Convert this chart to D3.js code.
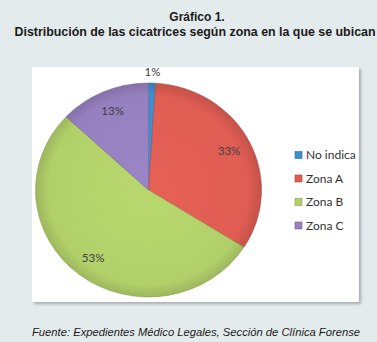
<!DOCTYPE html>
<html>
<head>
<meta charset="utf-8">
<script src="https://cdn.jsdelivr.net/npm/d3@7"></script>
<style>
  html, body { margin: 0; padding: 0; background: #e4ebed; }
  svg { display: block; }
</style>
</head>
<body>
<svg class="chart_svg" width="377" height="342"></svg>
<script>
// data
const categories = ["No indica", "Zona A", "Zona B", "Zona C"]
const values = [1, 33, 53, 13]
const colors = ["#3c8fd2", "#df5d53", "#b2d06a", "#9780bf"]
const title = "Gráfico 1."
const subtitle = "Distribución de las cicatrices según zona en la que se ubican"
const source = "Fuente: Expedientes Médico Legales, Sección de Clínica Forense"

const svg = d3.select("svg.chart_svg")
const defs = svg.append("defs")

// soft shadow for the chart box
const f = defs.append("filter").attr("id", "shadow")
    .attr("x", "-5%").attr("y", "-5%").attr("width", "115%").attr("height", "115%")
f.append("feDropShadow")
    .attr("dx", 2).attr("dy", 2).attr("stdDeviation", 1.6)
    .attr("flood-color", "#7a8486").attr("flood-opacity", 0.6)

// titles
svg.append("text")
    .attr("x", 197).attr("y", 21)
    .attr("text-anchor", "middle")
    .style("font", "bold 12px 'Liberation Sans', Arial, sans-serif")
    .attr("fill", "#1a1a1a")
    .text(title)
svg.append("text")
    .attr("x", 195).attr("y", 36)
    .attr("text-anchor", "middle")
    .attr("textLength", 361).attr("lengthAdjust", "spacingAndGlyphs")
    .style("font", "bold 12px 'Liberation Sans', Arial, sans-serif")
    .attr("fill", "#1a1a1a")
    .text(subtitle)

// chart box
svg.append("rect")
    .attr("x", 32).attr("y", 67)
    .attr("width", 327).attr("height", 235)
    .attr("fill", "#ffffff")
    .attr("filter", "url(#shadow)")

// pie
const cx = 148.5, cy = 190, rx = 113, ry = 107
const pie = d3.pie().sort(null).value(d => d)
const arcs = pie(values)
const arc = d3.arc().innerRadius(0).outerRadius(rx)
const labelArc = d3.arc().innerRadius(rx * 0.8).outerRadius(rx * 0.8)
const outerArc = d3.arc().innerRadius(rx + 12).outerRadius(rx + 12)

// radial shading to mimic the bevel
colors.forEach((c, i) => {
    const g = defs.append("radialGradient").attr("id", "grad" + i)
        .attr("gradientUnits", "userSpaceOnUse")
        .attr("cx", 0).attr("cy", 0).attr("r", rx)
    g.append("stop").attr("offset", "0%").attr("stop-color", d3.color(c).brighter(0.1))
    g.append("stop").attr("offset", "88%").attr("stop-color", c)
    g.append("stop").attr("offset", "100%").attr("stop-color", d3.color(c).darker(0.35))
})

const pieG = svg.append("g")
    .attr("transform", `translate(${cx},${cy}) scale(1,${ry / rx})`)

pieG.selectAll("path")
    .data(arcs)
    .join("path")
    .attr("d", arc)
    .attr("fill", (d, i) => `url(#grad${i})`)
    .attr("stroke", (d, i) => d3.color(colors[i]).darker(0.8))
    .attr("stroke-width", 0.7)
    .attr("stroke-opacity", 0.8)

// percent labels
const total = d3.sum(values)
svg.append("g")
    .selectAll("text")
    .data(arcs)
    .join("text")
    .attr("transform", d => {
        const p = (d.data / total < 0.05 ? outerArc : labelArc).centroid(d)
        return `translate(${cx + p[0]},${cy + p[1] * ry / rx})`
    })
    .attr("text-anchor", "middle")
    .attr("dy", "0.35em")
    .style("font", "11.5px Lato, 'Open Sans', sans-serif")
    .attr("fill", "#404040")
    .text(d => Math.round(d.data / total * 100) + "%")

// legend
const legend = svg.append("g")
    .selectAll("g")
    .data(categories)
    .join("g")
    .attr("transform", (d, i) => `translate(295,${155 + i * 23.5})`)
legend.append("rect")
    .attr("x", 0).attr("y", -3.5)
    .attr("width", 7).attr("height", 7)
    .attr("fill", (d, i) => colors[i])
    .attr("stroke", (d, i) => d3.color(colors[i]).darker(0.8))
    .attr("stroke-width", 0.6)
legend.append("text")
    .attr("x", 11).attr("dy", "0.35em")
    .style("font", "12px Lato, 'Open Sans', sans-serif")
    .attr("fill", "#333")
    .text(d => d)

// source note
svg.append("text")
    .attr("x", 196).attr("y", 336)
    .attr("text-anchor", "middle")
    .attr("textLength", 328).attr("lengthAdjust", "spacingAndGlyphs")
    .style("font", "italic 11px 'Liberation Sans', Arial, sans-serif")
    .attr("fill", "#1a1a1a")
    .text(source)
</script>
</body>
</html>
